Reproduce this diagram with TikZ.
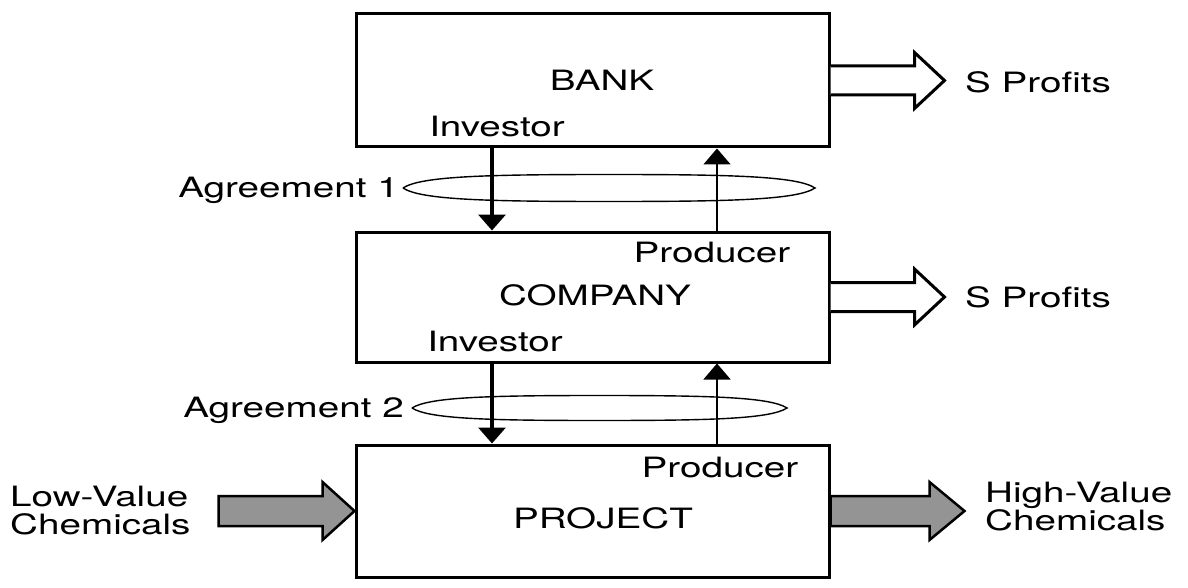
\documentclass[tikz,border=0pt]{standalone}
\usepackage{fontspec}
\setmainfont[FakeStretch=1.38]{TeX Gyre Heros}
\usetikzlibrary{arrows.meta,calc}
\begin{document}
\begin{tikzpicture}[x=1pt,y=-1pt,
  box/.style={draw,line width=3pt,minimum width=473pt,inner sep=0pt},
  lbl/.style={font=\fontsize{28}{28}\selectfont,inner sep=0pt},
  dnarrow/.style={line width=3.5pt,-{Triangle[width=27pt,length=16pt]}},
  uparrow/.style={line width=1.6pt,-{Triangle[width=27pt,length=16pt]}},
  lens/.style={draw,line width=1.4pt},
  hollow/.style={draw,line width=3pt,fill=white,line join=miter},
  grayarrow/.style={draw,line width=2.5pt,fill=black!42,line join=miter}]
\useasboundingbox (0,0) rectangle (1188,588);

% boxes
\node[box,minimum height=133pt] (bank) at (592.5,80.5) {};
\node[box,minimum height=130pt] (company) at (592.5,297) {};
\node[box,minimum height=132pt] (project) at (592.5,511) {};

% box labels
\node[lbl] (banklbl) at (602,80) {BANK};
\node[lbl] (inv1) at (497,127) {Investor};
\node[lbl] (prod1) at (712,253) {Producer};
\node[lbl] (complbl) at (595,295) {COMPANY};
\node[lbl] (inv2) at (495,342) {Investor};
\node[lbl] (prod2) at (720,468) {Producer};
\node[lbl] (projlbl) at (603,518) {PROJECT};

% vertical connectors
\coordinate (xl) at (492,0);
\coordinate (xr) at (717,0);
\draw[dnarrow] (xl |- bank.south) -- (xl |- company.north);
\draw[uparrow] (xr |- company.north) -- (xr |- bank.south);
\draw[dnarrow] (xl |- company.south) -- (xl |- project.north);
\draw[uparrow] (xr |- project.north) -- (xr |- company.south);

% agreement lenses
\coordinate (a1l) at (403,188);
\coordinate (a1r) at (815,188);
\coordinate (a1t) at (609,174.5);
\coordinate (a1b) at (609,201.5);
\draw[lens] (a1l) .. controls +(18,-12) and +(-120,0) .. (a1t)
  .. controls +(120,0) and +(-18,-12) .. (a1r)
  .. controls +(-18,12) and +(120,0) .. (a1b)
  .. controls +(-120,0) and +(18,12) .. (a1l);
\coordinate (a2l) at (412,408);
\coordinate (a2r) at (787,408);
\coordinate (a2t) at (599.5,395.5);
\coordinate (a2b) at (599.5,420.5);
\draw[lens] (a2l) .. controls +(17,-11) and +(-110,0) .. (a2t)
  .. controls +(110,0) and +(-17,-11) .. (a2r)
  .. controls +(-17,11) and +(110,0) .. (a2b)
  .. controls +(-110,0) and +(17,11) .. (a2l);
\node[lbl,anchor=east] (ag1) at ($(a1l)+(-4,2)$) {Agreement 1};
\node[lbl,anchor=east] (ag2) at ($(a2l)+(-8,2)$) {Agreement 2};

% profit arrows
\draw[hollow] ($(bank.east)+(0,-14.5)$) -- ++(84,0) -- ++(0,-13.5) -- ++(30,28) -- ++(-30,28) -- ++(0,-13.5) -- ++(-84,0);
\draw[hollow] ($(company.east)+(0,-14.5)$) -- ++(84,0) -- ++(0,-13.5) -- ++(30,28) -- ++(-30,28) -- ++(0,-13.5) -- ++(-84,0);
\node[lbl,anchor=west] (pr1) at (965,82) {S Profits};
\node[lbl,anchor=west] (pr2) at (965,297) {S Profits};

% chemical arrows
\draw[grayarrow] (project.west) -- ++(-32,-29) -- ++(0,14) -- ++(-104,0) -- ++(0,30) -- ++(104,0) -- ++(0,14) -- cycle;
\draw[grayarrow] ($(project.east)+(0,-15)$) -- ++(99,0) -- ++(0,-14) -- ++(35,29) -- ++(-35,29) -- ++(0,-14) -- ++(-99,0) -- cycle;
\node[lbl,anchor=west,align=left] (low) at (10,511) {Low-Value\\Chemicals};
\node[lbl,anchor=west,align=left] (high) at (985,507) {High-Value\\Chemicals};
\end{tikzpicture}
\end{document}
